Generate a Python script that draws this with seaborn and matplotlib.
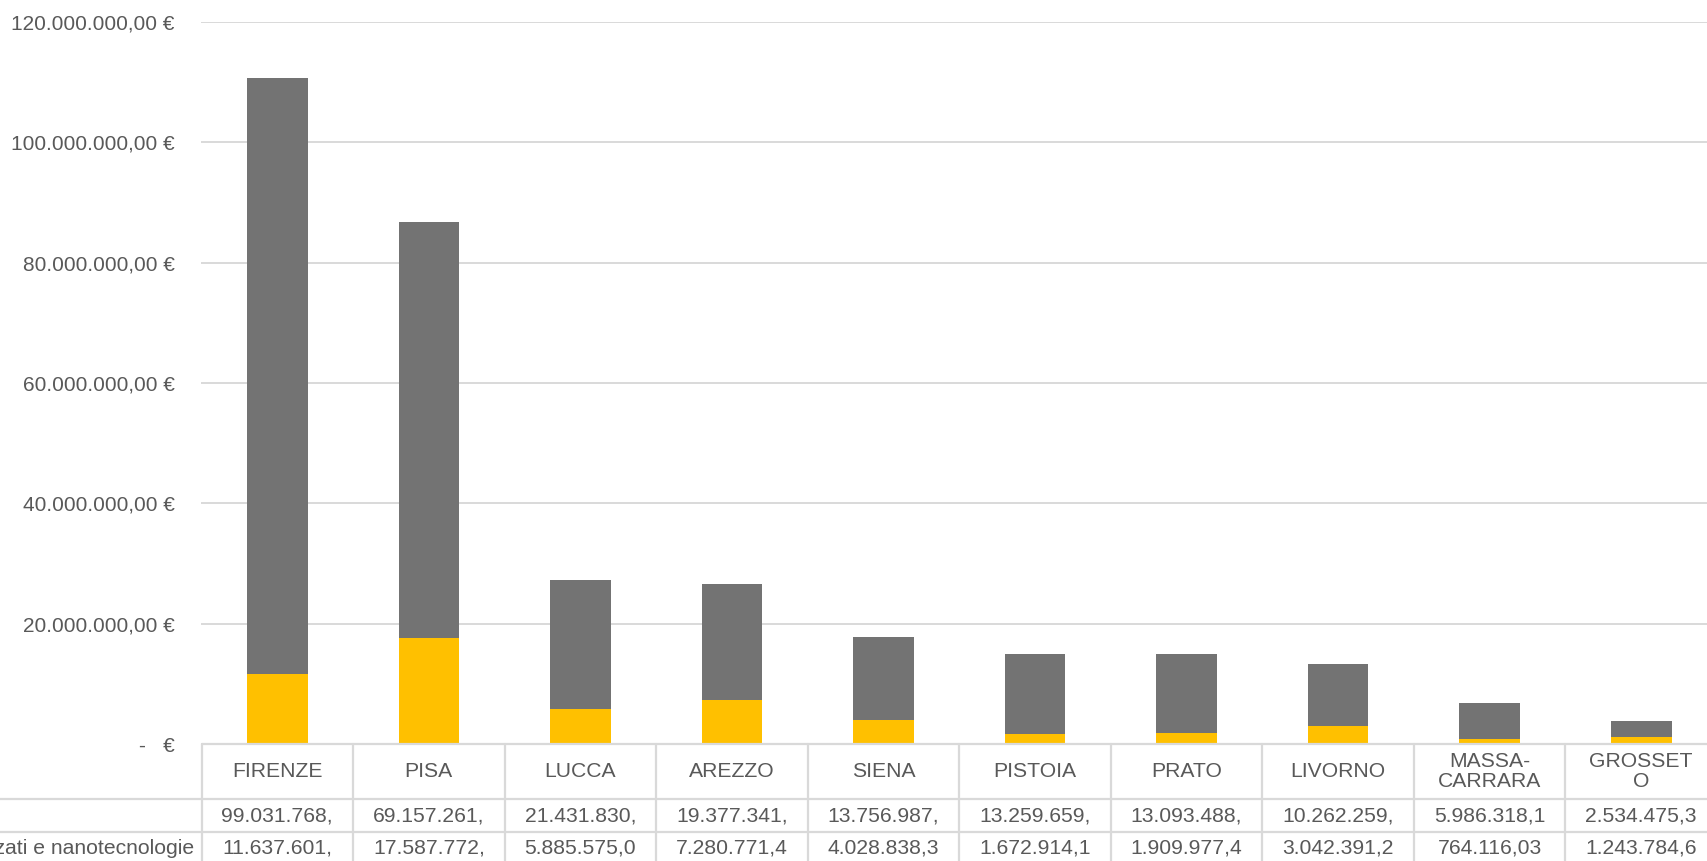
import matplotlib
matplotlib.use("Agg")
import matplotlib.pyplot as plt
import numpy as np
import pandas as pd
import seaborn as sns

# dati
province = ["FIRENZE", "PISA", "LUCCA", "AREZZO", "SIENA", "PISTOIA",
            "PRATO", "LIVORNO", "MASSA-CARRARA", "GROSSETO"]
etichette_province = ["FIRENZE", "PISA", "LUCCA", "AREZZO", "SIENA", "PISTOIA",
                      "PRATO", "LIVORNO", "MASSA-\nCARRARA", "GROSSET\nO"]
serie_altro = [99031768.0, 69157261.0, 21431830.0, 19377341.0, 13756987.0,
               13259659.0, 13093488.0, 10262259.0, 5986318.1, 2534475.3]
serie_nano = [11637601.0, 17587772.0, 5885575.0, 7280771.4, 4028838.3,
              1672914.1, 1909977.4, 3042391.2, 764116.03, 1243784.6]
nome_altro = ""
nome_nano = "Materiali avanzati e nanotecnologie"
y_ticks = [0, 20e6, 40e6, 60e6, 80e6, 100e6, 120e6]

GRIGIO = "#737373"
GIALLO = "#FFC000"
TESTO = "#595959"
LINEE = "#d9d9d9"

sns.set_style("white")
plt.rcParams["font.family"] = ["Liberation Sans", "DejaVu Sans"]

df = pd.DataFrame({"provincia": province,
                   "altro": serie_altro,
                   "nano": serie_nano})
df["totale"] = df["altro"] + df["nano"]

W, H = 1708, 861
fig = plt.figure(figsize=(W / 100, H / 100), dpi=100)

# posizione area grafico (in pixel)
x0, x1 = 201.5, 1717.0
y_top, y_zero = 21.8, 744.0
ax = fig.add_axes([x0 / W, 1 - y_zero / H, (x1 - x0) / W, (y_zero - y_top) / H])

# barre impilate: totale in grigio, poi parte gialla sopra
sns.barplot(data=df, x="provincia", y="totale", color=GRIGIO, saturation=1,
            width=0.4, linewidth=0, ax=ax, zorder=3)
sns.barplot(data=df, x="provincia", y="nano", color=GIALLO, saturation=1,
            width=0.4, linewidth=0, ax=ax, zorder=4)

ax.set_xlim(-0.5, len(province) - 0.5)
ax.set_ylim(0, 120e6)


def euro(v):
    if v == 0:
        return "-   €"
    s = f"{v:,.2f}".replace(",", "X").replace(".", ",").replace("X", ".")
    return s + " €"


ax.set_yticks(y_ticks)
ax.set_yticklabels([euro(v) for v in y_ticks], fontsize=15, color=TESTO)
ax.tick_params(axis="y", length=0, pad=19.5)
ax.tick_params(axis="x", length=0, labelbottom=False)
ax.set_xlabel("")
ax.set_ylabel("")
ax.grid(axis="y", color=LINEE, linewidth=1.4, zorder=0)
for s in ax.spines.values():
    s.set_visible(False)

# tabella dati sotto il grafico
h_head, h_row = 55, 33
tab_h = H - y_zero
ax_t = fig.add_axes([x0 / W, 0, (x1 - x0) / W, tab_h / H])
ax_t.set_xlim(ax.get_xlim())
ax_t.set_ylim(tab_h, 0)
ax_t.axis("off")

n = len(province)
righe_y = [0, h_head, h_head + h_row, h_head + 2 * h_row]
x_left_fig = -0.5 - x0 / ((x1 - x0) / n)

# linee orizzontali
ax_t.plot([-0.5, n - 0.5], [0, 0], color=LINEE, lw=1.6, clip_on=False)
for yy in righe_y[1:3]:
    ax_t.plot([x_left_fig, n - 0.5], [yy, yy], color=LINEE, lw=1.6, clip_on=False)
# linee verticali
for i in range(n + 1):
    ax_t.plot([i - 0.5, i - 0.5], [0, tab_h], color=LINEE, lw=1.6, clip_on=False)

fs_tab = 15.2
for i, lab in enumerate(etichette_province):
    ax_t.text(i, h_head / 2, lab, ha="center", va="center", fontsize=fs_tab,
              color=TESTO, linespacing=1.05)


def cella(v):
    s = f"{v:,.2f}".replace(",", "X").replace(".", ",").replace("X", ".")
    return s[:11]


for r, (nome, valori) in enumerate([(nome_altro, serie_altro), (nome_nano, serie_nano)]):
    yc = righe_y[r + 1] + h_row / 2
    ax_t.text(-0.5 - 0.05, yc, nome, ha="right", va="center", fontsize=fs_tab,
              color=TESTO, clip_on=False)
    for i, v in enumerate(valori):
        ax_t.text(i, yc, cella(v), ha="center", va="center", fontsize=fs_tab,
                  color=TESTO)

fig.savefig("out.png", dpi=100, facecolor="white")
